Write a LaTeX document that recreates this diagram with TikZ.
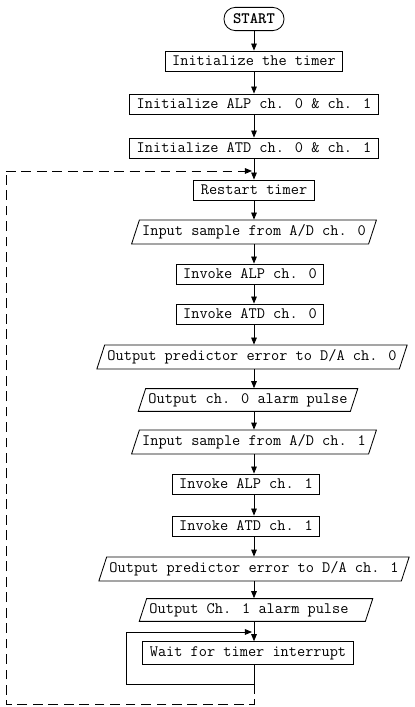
\documentclass[tikz,border=0pt]{standalone}
\usepackage{fontspec}
\usepackage{tikz}
\usetikzlibrary{arrows.meta,shapes.geometric,positioning,calc}
\tikzset{
  procbox/.style={draw,line width=0.6pt,font=\ttfamily\fontsize{11.3}{12}\selectfont,
    inner xsep=5pt,minimum height=0.5cm},
  iobox/.style={draw,line width=0.6pt,font=\ttfamily\fontsize{11.3}{12}\selectfont,
    trapezium,trapezium left angle=72,trapezium right angle=108,
    inner xsep=2pt,minimum height=0.55cm,trapezium stretches body},
  termbox/.style={draw,line width=0.6pt,font=\ttfamily\bfseries\fontsize{11.3}{12}\selectfont,
    rounded corners=8pt,minimum height=0.58cm,minimum width=1.5cm},
  flow/.style={line width=0.6pt,-{Triangle[length=5pt,width=4pt]}},
  loopline/.style={line width=0.6pt},
  dashloop/.style={line width=0.6pt,dash pattern=on 7pt off 4pt}
}
\begin{document}
\begin{tikzpicture}
        \useasboundingbox (0,0) rectangle (10.35,17.675);
        %% Initialization
        \node[termbox] (start) at (6.35,17.2) {START};
        \node[procbox] (inittimer) at (6.35,16.15)
          {Initialize the timer};
        \node[procbox] (initalp) at (6.35,15.075)
          {Initialize ALP ch. 0 \& ch. 1};
        \node[procbox] (initatd) at (6.35,13.975)
          {Initialize ATD ch. 0 \& ch. 1};
        %% Channel 0
        \node[procbox] (restart) at (6.35,12.925) {Restart timer};
        \node[iobox] (inzero) at (6.35,11.875)
          {Input sample from A/D ch. 0};
        \node[procbox] (alpzero) at (6.25,10.825) {Invoke ALP ch. 0};
        \node[procbox] (atdzero) at (6.25,9.825) {Invoke ATD ch. 0};
        \node[iobox] (errzero) at (6.3,8.75)
          {Output predictor error to D/A ch. 0};
        \node[iobox] (alarmzero) at (6.2,7.675)
          {Output ch. 0 alarm pulse};
        %% Channel 1
        \node[iobox] (inone) at (6.35,6.625)
          {Input sample from A/D ch. 1};
        \node[procbox] (alpone) at (6.15,5.575) {Invoke ALP ch. 1};
        \node[procbox] (atdone) at (6.15,4.525) {Invoke ATD ch. 1};
        \node[iobox] (errone) at (6.35,3.45)
          {Output predictor error to D/A ch. 1};
        \node[iobox] (alarmone) at (6.4,2.425)
          {Output Ch. 1 alarm pulse\hspace*{0.35cm}};
        \node[procbox] (wait) at (6.2,1.35)
          {Wait for timer interrupt};
        %% Loop points
        \coordinate (toploop) at (6.3,13.4);
        \coordinate (waitin) at (6.3,1.875);
        \coordinate (waitout) at (6.35,0.575);
        \coordinate (waitleft) at (3.15,0.575);
        \coordinate (dashbot) at (6.35,0.06);
        \coordinate (dashleft) at (0.15,0.06);
        %% Main flow
        \draw[flow] (start) -- (inittimer);
        \draw[flow] (inittimer) -- (inittimer |- initalp.north);
        \draw[flow] (initalp) -- (initalp |- initatd.north);
        \draw[flow] (initatd.south -| 6.35,0) -- (6.35,0 |- restart.north);
        \draw[flow] (restart) -- (6.35,0 |- inzero.north);
        \draw[flow] (6.35,0 |- inzero.south) -- (6.35,0 |- alpzero.north);
        \draw[flow] (6.35,0 |- alpzero.south) -- (6.35,0 |- atdzero.north);
        \draw[flow] (6.35,0 |- atdzero.south) -- (6.35,0 |- errzero.north);
        \draw[flow] (6.35,0 |- errzero.south) -- (6.35,0 |- alarmzero.north);
        \draw[flow] (6.35,0 |- alarmzero.south) -- (6.35,0 |- inone.north);
        \draw[flow] (6.35,0 |- inone.south) -- (6.35,0 |- alpone.north);
        \draw[flow] (6.35,0 |- alpone.south) -- (6.35,0 |- atdone.north);
        \draw[flow] (6.35,0 |- atdone.south) -- (6.35,0 |- errone.north);
        \draw[flow] (6.35,0 |- errone.south) -- (6.35,0 |- alarmone.north);
        \draw[flow] (6.35,0 |- alarmone.south) -- (6.35,0 |- wait.north);
        %% Wait loop
        \draw[loopline] (6.35,0 |- wait.south) -- (waitout) -- (waitleft)
          -- (waitleft |- waitin);
        \draw[flow] (waitleft |- waitin) -- (waitin);
        %% Back to restart
        \draw[dashloop] (waitout) -- (dashbot) -- (dashleft)
          -- (dashleft |- toploop);
        \draw[dashloop,-{Triangle[length=5pt,width=4pt]}]
          (dashleft |- toploop) -- (toploop);
      \end{tikzpicture}
\end{document}
